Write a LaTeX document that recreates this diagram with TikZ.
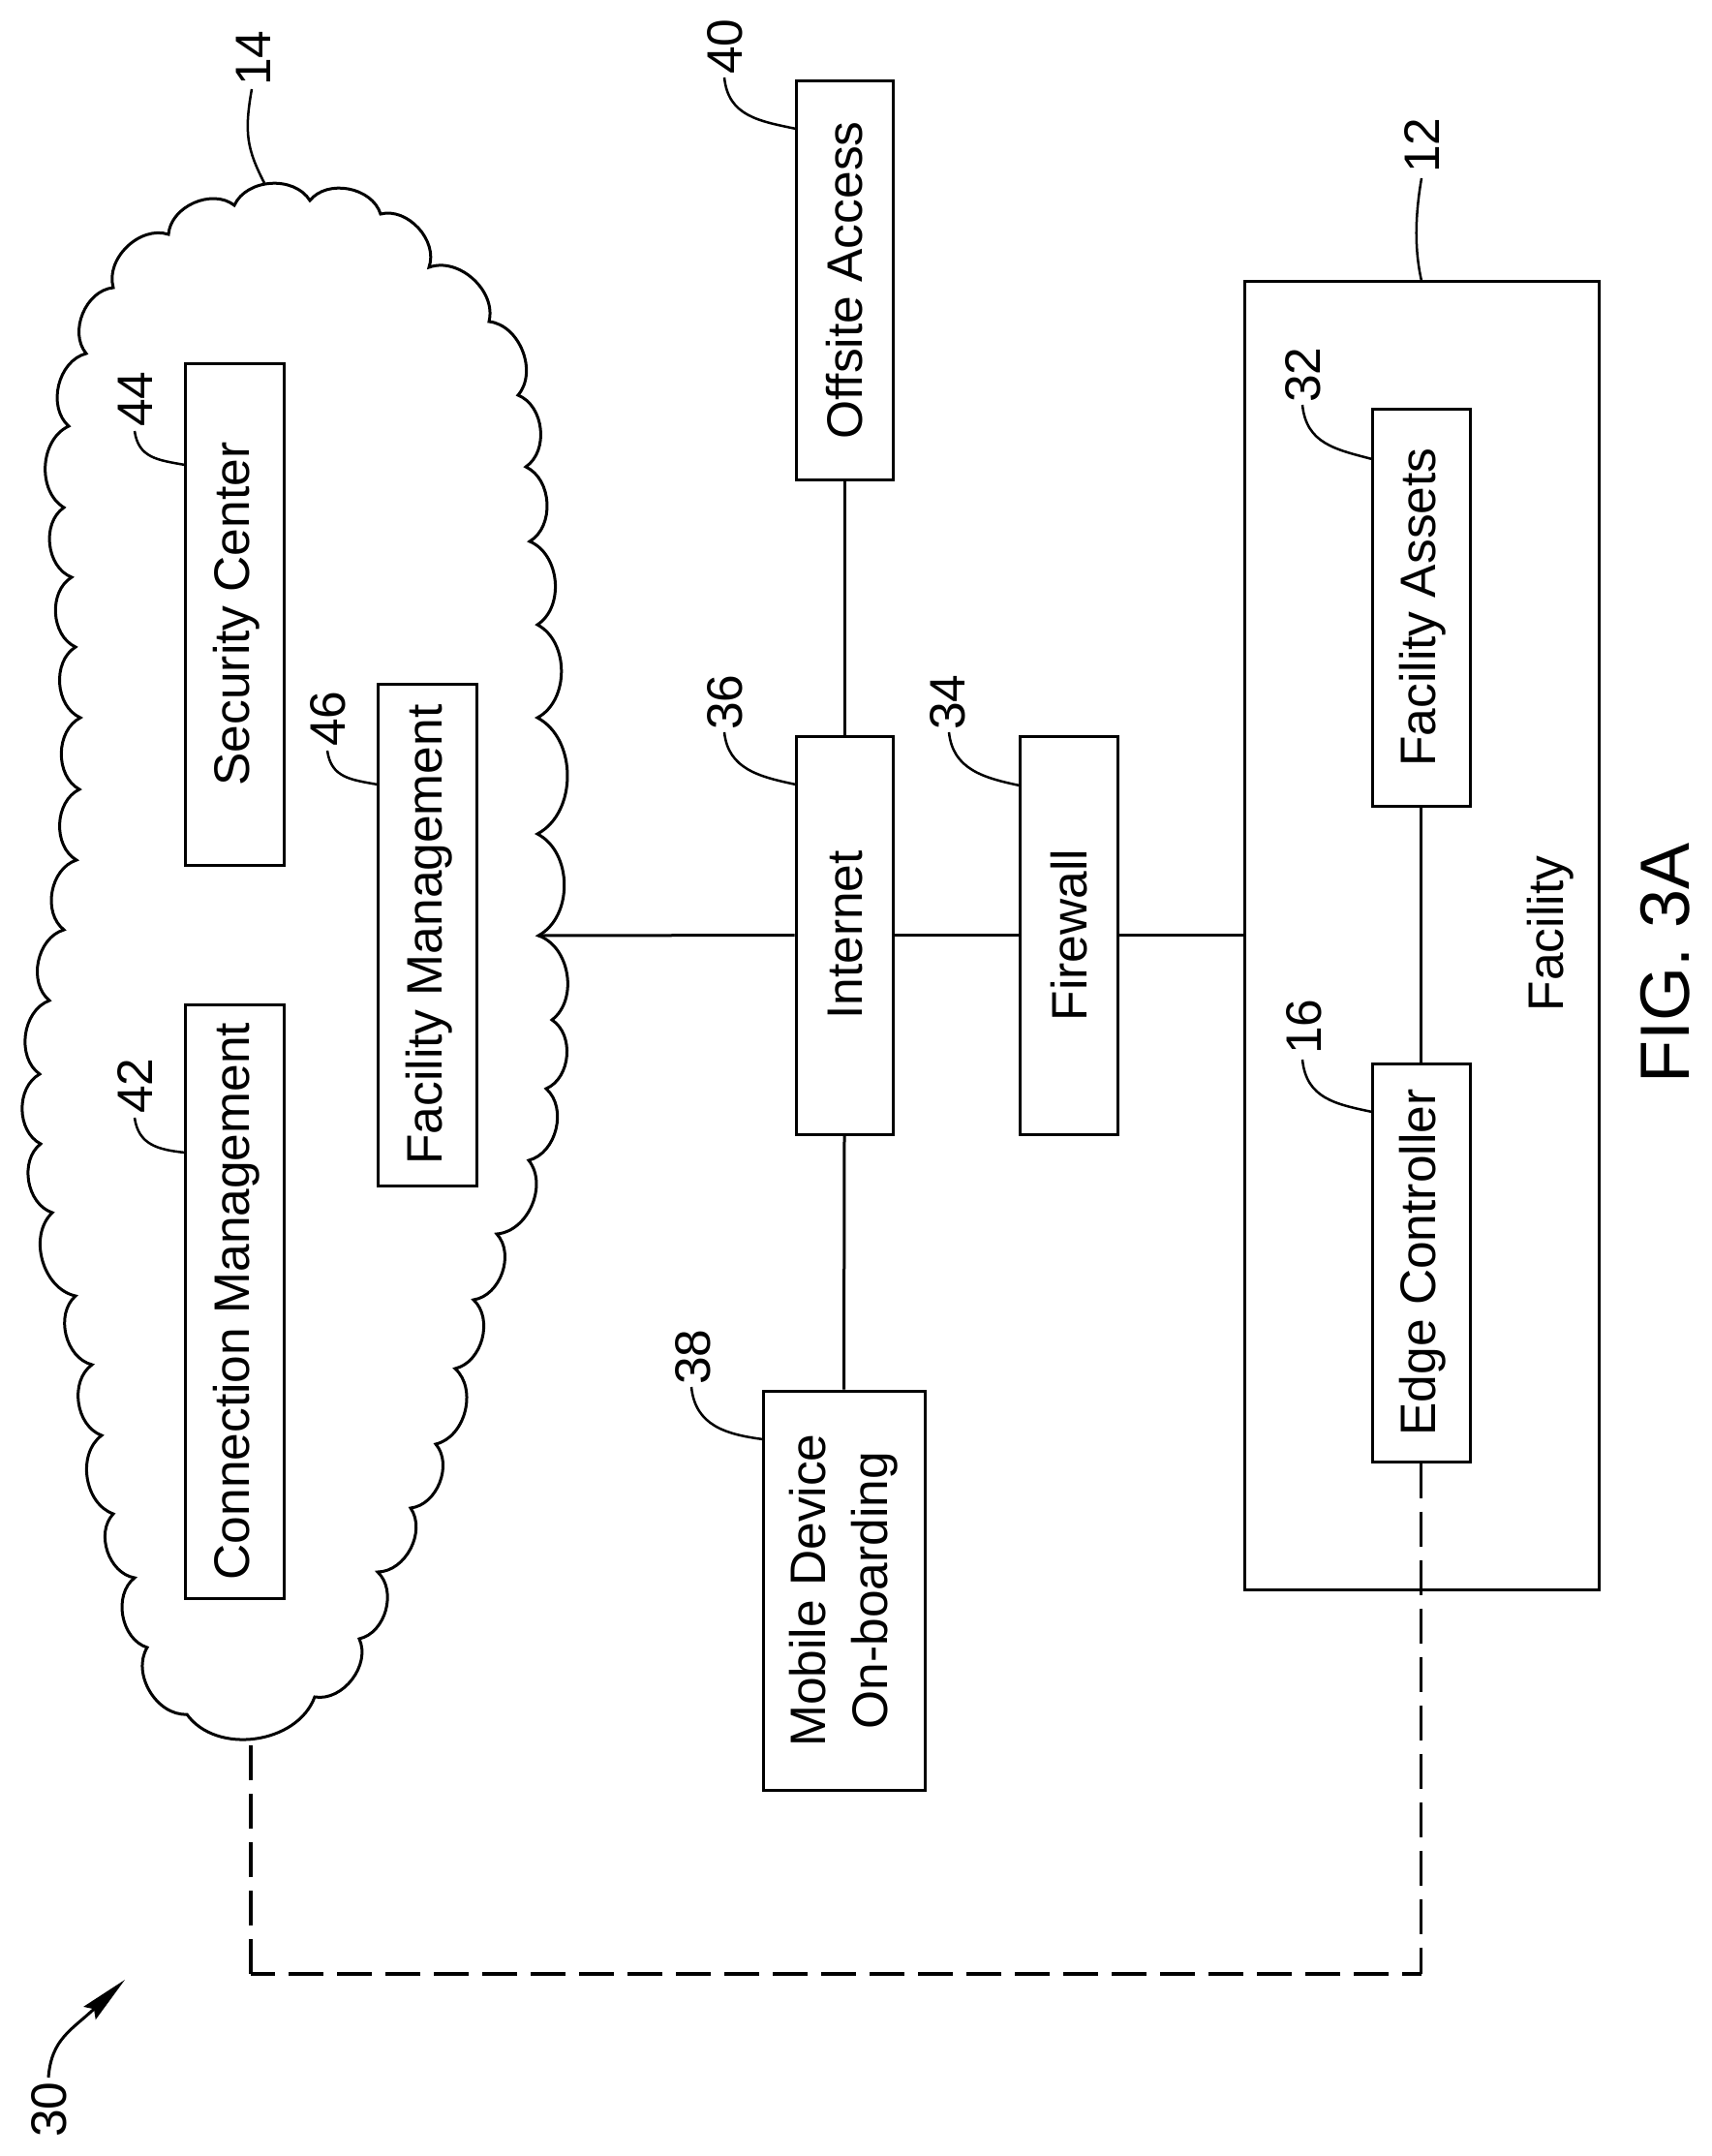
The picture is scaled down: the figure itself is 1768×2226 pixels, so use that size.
\documentclass[tikz,border=0pt]{standalone}
\usepackage{fontspec}
\setmainfont{Liberation Sans}
\usetikzlibrary{arrows.meta}
\tikzset{
  lbl/.style={font=\fontsize{51.5}{64}\selectfont},
  tbox/.style={draw=black,line width=3,rotate=90,lbl,inner sep=0,align=center,
    minimum width=#1},
  lowtext/.style={text height=37,text depth=7},
  flattext/.style={text height=37,text depth=0},
  num/.style={rotate=90,lbl,inner sep=0},
  link/.style={draw=black,line width=3},
  dashlink/.style={draw=black,line width=3.5,dash pattern=on 36 off 14},
  lead/.style={draw=black,line width=2.5},
  bump/.style={bend left=62},
}
\newcommand{\leadline}[9]{%
  \node[num] (n#1) at (#2,#3) {#1};
  \coordinate (s#1) at (#4,#5);
  \coordinate (e#1) at (#6,#7);
  \draw[lead] (s#1) .. controls +#8 and +#9 .. (e#1);
}
\begin{document}
\begin{tikzpicture}[x=1pt,y=-1pt]
\useasboundingbox (0,0) rectangle (1768,2226);
\fill[white] (0,0) rectangle (1768,2226);

% cloud
\coordinate (cloudE) at (556,966);
\coordinate (cloudS) at (259,1800);
\draw[link,line join=miter] (242,212)
 to[bump] (320,207) to[bump] (393,221) to[bump] (443,276) to[bump] (505,332)
 to[bump] (535,408) to[bump] (543,482) to[bump] (547,559) to[bump] (555,645)
 to[bump] (555,741) to[bump] (555,861) to[bump] (cloudE) to[bump] (570,1053)
 to[bump] (564,1124) to[bump] (546,1198) to[bump] (513,1274) to[bump] (489,1342)
 to[bump] (470,1413) to[bump] (450,1491) to[bump] (424,1557) to[bump] (390,1623)
 to[bump] (371,1692) to[bump] (325,1752) to[bump] (193,1770) to[bump] (152,1701)
 to[bump] (139,1629) to[bump] (117,1563) to[bump] (105,1482) to[bump] (95,1409)
 to[bump] (78,1338) to[bump] (54,1252) to[bump] (42,1181) to[bump] (41,1109)
 to[bump] (51,1033) to[bump] (66,960) to[bump] (79,888) to[bump] (82,815)
 to[bump] (83,741) to[bump] (78,668) to[bump] (74,596) to[bump] (66,524)
 to[bump] (71,440) to[bump] (89,365) to[bump] (117,297) to[bump] (174,242)
 to[bump] cycle;

% boxes
\node[tbox=518,minimum height=102,lowtext] (security) at (242,634) {Security Center};
\node[tbox=518,minimum height=102,lowtext] (fmgmt) at (441,965) {Facility Management};
\node[tbox=613,minimum height=102,lowtext] (conn) at (242,1343.5) {Connection Management};
\node[tbox=411,minimum height=100,flattext] (offsite) at (872,289.5) {Offsite Access};
\node[tbox=411,minimum height=100,flattext] (internet) at (872,965.5) {Internet};
\node[tbox=411,minimum height=101,flattext] (firewall) at (1103.5,965.5) {Firewall};
\node[tbox=412,minimum height=167] (mobile) at (871.5,1642) {Mobile Device\\On-boarding};
\node[tbox=1351,minimum height=366] (facility) at (1468,965.5) {};
\node[tbox=410,minimum height=101,lowtext] (assets) at (1467.5,627) {Facility Assets};
\node[tbox=411,minimum height=101,lowtext] (edge) at (1467.5,1303.5) {Edge Controller};
\node[num,flattext] (facname) at (1596,964) {Facility};
\node[rotate=90,inner sep=0,font=\fontsize{72}{80}\selectfont] (fig) at (1720,994) {FIG. 3A};

% connectors
\draw[link] (cloudE) -- (internet.north);
\draw[link] (internet.south) -- (firewall.north);
\draw[link] (firewall.south) -- (facility.north);
\draw[link] (internet.east) -- (offsite.west);
\draw[link] (internet.west) -- (mobile.east);
\draw[link] (assets.west) -- (edge.east);
\coordinate (cb) at (1467.5,2038);
\coordinate (cd) at (259,2038);
\draw[dashlink] (edge.west) -- (cb);
\draw[dashlink,dash phase=11] (cd) -- (cb);
\draw[dashlink] (cd) -- (cloudS);

% reference numerals and leaders
\leadline{14}{262}{60}{260}{92}{273}{189}{(-8,45)}{(-18,-35)}
\leadline{40}{749}{48}{748}{80}{822}{133}{(4,40)}{(-38,-8)}
\leadline{44}{140}{412}{139}{445}{191}{480}{(4,28)}{(-28,-5)}
\leadline{46}{339}{742}{338}{775}{390}{810}{(4,28)}{(-28,-5)}
\leadline{36}{749}{725}{748}{756}{822}{810}{(4,38)}{(-38,-8)}
\leadline{42}{140}{1121}{139}{1154}{191}{1190}{(4,28)}{(-28,-3)}
\leadline{38}{716}{1401}{714}{1432}{788}{1486}{(4,40)}{(-38,-5)}
\leadline{34}{979}{725}{980}{756}{1053}{811}{(4,38)}{(-38,-8)}
\leadline{32}{1346}{387}{1345}{418}{1417}{474}{(4,40)}{(-38,-10)}
\leadline{12}{1468}{150}{1468}{184}{1468}{290}{(-6,35)}{(-8,-35)}
\leadline{16}{1347}{1060}{1345}{1094}{1417}{1148}{(4,40)}{(-38,-8)}

% numeral 30 with its arrow
\node[num] (n30) at (51,2178) {30};
\coordinate (s30) at (50,2145);
\coordinate (e30) at (129,2044);
\draw[draw=black,line width=3,-{Stealth[length=50,width=18,inset=6]}] (s30) .. controls +(3,-40) and +(-55,52) .. (e30);
\end{tikzpicture}
\end{document}
